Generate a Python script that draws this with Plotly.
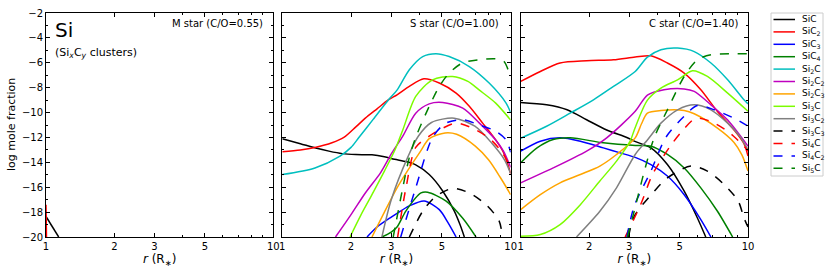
import plotly.graph_objects as go

# ---------------- data (log mole fraction vs r / R*) ----------------
SPECIES = ["SiC", "SiC<sub>2</sub>", "SiC<sub>3</sub>", "SiC<sub>4</sub>",
           "Si<sub>2</sub>C", "Si<sub>2</sub>C<sub>2</sub>", "Si<sub>2</sub>C<sub>3</sub>",
           "Si<sub>3</sub>C", "Si<sub>3</sub>C<sub>2</sub>", "Si<sub>3</sub>C<sub>3</sub>",
           "Si<sub>4</sub>C", "Si<sub>4</sub>C<sub>2</sub>", "Si<sub>5</sub>C"]
COLORS = ["#000000", "#ff0000", "#0000ff", "#008000", "#00bfbf", "#bf00bf", "#ffa500",
          "#7cfc00", "#808080", "#000000", "#ff0000", "#0000ff", "#008000"]
DASHES = ["solid"] * 9 + ["dash"] * 4

X_TICKS = [1, 2, 3, 5, 10]
X_TICKTEXT = ["1", "2", "3", "5", "10"]
Y_TICKS = [-20, -18, -16, -14, -12, -10, -8, -6, -4, -2]

# M star (C/O=0.55)
m_sic_r = [1.0, 1.137]
m_sic_y = [-18.35, -20.0]
m_sic2_r = [1.0, 1.005]
m_sic2_y = [-17.4, -20.0]

# S star (C/O=1.00)
s_sic_r = [1, 1.2, 1.4, 1.6, 1.83, 2.1, 2.47, 2.8, 3.1, 3.5, 3.84, 4.4, 5.04, 5.66, 6.0, 6.27]
s_sic_y = [-12.1, -12.5, -12.85, -13.1, -13.3, -13.38, -13.4, -13.55, -13.75, -13.95, -14.2, -14.98, -16.3, -17.9, -19.0, -20]
s_sic2_r = [1, 1.2, 1.39, 1.65, 1.86, 2.1, 2.31, 2.6, 2.92, 3.18, 3.6, 4.17, 4.87, 5.77, 6.59, 7.54, 8.6, 9.3, 10]
s_sic2_y = [-13.15, -13.0, -12.8, -12.43, -12.0, -11.15, -10.45, -9.7, -8.97, -8.57, -7.9, -7.29, -7.63, -8.44, -9.5, -10.85, -12.2, -13.2, -14.9]
s_sic3_r = [2.35, 2.6, 3.0, 3.18, 3.6, 4.18, 4.87, 5.3, 5.77]
s_sic3_y = [-20, -19.2, -18.4, -18.1, -17.5, -17.1, -17.8, -18.8, -20]
s_sic4_r = [2.73, 3.0, 3.18, 3.48, 4.05, 4.33, 5.2, 6.17, 7.05]
s_sic4_y = [-20, -19.6, -19.2, -17.9, -16.46, -16.4, -17.1, -18.5, -20]
s_si2c_r = [1, 1.39, 1.79, 2.0, 2.16, 2.5, 2.92, 3.18, 3.6, 4.12, 4.71, 5.38, 6.59, 8.05, 9.55, 10]
s_si2c_y = [-14.98, -14.45, -13.5, -12.8, -12.03, -10.55, -8.97, -8.2, -6.56, -5.5, -5.27, -5.5, -6.3, -7.63, -9.24, -10.0]
s_si2c2_r = [1.71, 2.0, 2.31, 2.7, 3.02, 3.37, 3.84, 4.4, 5.04, 6.17, 7.3, 8.6, 9.3, 10]
s_si2c2_y = [-20, -18.2, -16.46, -14.8, -13.24, -11.9, -10.05, -9.3, -9.19, -9.64, -10.85, -12.2, -13.1, -14.4]
s_si2c3_r = [2.47, 2.8, 3.18, 3.5, 4.0, 4.4, 5.16, 5.8, 7.0, 8.0, 9.0, 10]
s_si2c3_y = [-20, -18.0, -16.05, -14.8, -13.2, -12.1, -11.64, -11.75, -12.7, -13.8, -15.2, -16.6]
s_si3c_r = [1.98, 2.2, 2.47, 2.8, 3.12, 3.37, 3.84, 4.55, 5.57, 6.5, 7.3, 8.6, 10]
s_si3c_y = [-20, -18.3, -16.6, -14.7, -12.97, -11.4, -8.7, -7.37, -7.1, -7.5, -8.2, -9.24, -10.6]
s_si3c2_r = [2.73, 3.0, 3.56, 3.94, 4.5, 5.66, 6.97, 8.26, 9.4, 10]
s_si3c2_y = [-20, -17.0, -13.5, -11.9, -10.8, -10.45, -11.1, -12.45, -13.8, -14.9]
s_si3c3_r = [3.6, 4.12, 4.71, 5.57, 6.59, 7.8, 8.9, 9.2]
s_si3c3_y = [-20, -17.93, -16.72, -16.1, -16.46, -17.4, -18.7, -20]
s_si4c_r = [3.2, 3.48, 3.84, 4.4, 4.87, 5.77, 6.8, 8.05, 9.0, 9.6, 10]
s_si4c_y = [-20, -16.05, -12.8, -11.9, -11.4, -10.85, -11.25, -12.06, -13.0, -13.8, -14.6]
s_si4c2_r = [3.3, 3.84, 4.55, 5.2, 6.17, 7.3, 8.6, 9.55, 10]
s_si4c2_y = [-20, -16.05, -12.0, -10.85, -10.58, -11.0, -11.5, -12.2, -13.2]
s_si5c_r = [3.06, 3.37, 3.6, 3.84, 4.4, 4.87, 5.38, 6.17, 7.3, 8.6, 9.35, 9.87, 10]
s_si5c_y = [-20, -16.05, -13.6, -12.0, -9.5, -7.9, -6.83, -6.0, -5.76, -5.68, -5.9, -6.83, -7.1]

# C star (C/O=1.40)
c_sic_r = [1, 1.3, 1.6, 1.95, 2.39, 2.93, 3.16, 3.74, 4.42, 5.24, 5.99, 6.52]
c_sic_y = [-9.19, -9.38, -9.78, -10.58, -11.4, -12.0, -12.3, -12.84, -14.18, -16.32, -18.47, -20]
c_sic2_r = [1, 1.22, 1.49, 1.95, 2.56, 3.19, 3.74, 4.42, 5.24, 6.2, 7.34, 8.68, 9.6, 10]
c_sic2_y = [-7.5, -6.7, -6.02, -5.84, -5.76, -5.54, -5.44, -6.02, -6.83, -8.17, -9.92, -11.4, -12.5, -13.5]
c_sic3_r = [1, 1.22, 1.49, 1.83, 2.31, 2.74, 3.19, 3.74, 4.42, 5.24, 6.2, 6.87]
c_sic3_y = [-13.1, -12.3, -12.03, -12.3, -12.84, -13.24, -13.6, -14.18, -15.1, -16.6, -18.6, -20]
c_sic4_r = [1, 1.18, 1.39, 1.65, 2.31, 3.19, 3.74, 4.42, 5.24, 6.2, 7.34, 8.56]
c_sic4_y = [-14.04, -12.84, -12.17, -12.03, -12.43, -12.65, -12.7, -13.37, -14.45, -16.05, -17.93, -20]
c_si2c_r = [1, 1.3, 1.65, 2.09, 2.56, 3.19, 3.61, 4.14, 4.9, 5.8, 6.87, 8.14, 9.6, 10]
c_si2c_y = [-12.06, -11.1, -10.05, -8.98, -7.9, -6.7, -5.55, -4.95, -4.82, -5.1, -6.02, -7.37, -8.98, -9.3]
c_si2c2_r = [1, 1.39, 1.95, 2.39, 3.19, 3.61, 4.27, 5.24, 5.8, 6.87, 8.14, 10]
c_si2c2_y = [-15.65, -14.45, -13.1, -12.03, -9.9, -8.6, -8.17, -8.1, -8.3, -9.38, -10.6, -12.7]
c_si2c3_r = [1, 1.22, 1.49, 1.83, 2.23, 2.64, 3.19, 3.4, 3.61, 4.14, 5.24, 5.8, 7.34, 8.68, 9.4, 10]
c_si2c3_y = [-17.8, -16.6, -15.65, -14.98, -14.3, -13.37, -12.03, -10.9, -10.05, -9.84, -9.84, -10.1, -11.25, -12.4, -13.4, -14.7]
c_si3c_r = [1, 1.22, 1.49, 1.83, 2.23, 2.64, 3.03, 3.16, 3.61, 4.14, 4.9, 5.7, 6.63, 8.14, 10]
c_si3c_y = [-19.94, -19.8, -19.0, -17.4, -15.5, -13.9, -12.3, -11.4, -9.0, -8.03, -7.37, -6.64, -7.1, -8.44, -9.9]
c_si3c2_r = [1.76, 2.23, 2.64, 3.19, 3.61, 4.14, 4.9, 5.8, 6.87, 8.14, 9.2, 10]
c_si3c2_y = [-20, -17.93, -16.05, -13.37, -12.2, -10.85, -9.78, -9.38, -9.78, -10.85, -11.9, -13.0]
c_si3c3_r = [2.98, 3.16, 3.87, 4.42, 5.61, 6.63, 7.87, 9.05, 9.6, 10]
c_si3c3_y = [-20, -18.33, -16.32, -15.25, -14.3, -14.7, -15.8, -17.1, -18.47, -19.2]
c_si4c_r = [2.88, 3.37, 3.8, 4.55, 5.24, 5.9, 6.87, 8.14, 9.0, 9.6, 10]
c_si4c_y = [-20, -17.4, -14.98, -12.7, -11.3, -10.45, -10.72, -11.5, -12.2, -12.7, -13.1]
c_si4c2_r = [2.93, 3.16, 3.74, 4.35, 5.24, 5.99, 7.1, 8.68, 10]
c_si4c2_y = [-20, -17.5, -14.7, -12.0, -10.3, -9.43, -9.78, -10.45, -11.1]
c_si5c_r = [2.95, 3.16, 3.5, 3.87, 4.42, 5.24, 5.99, 6.87, 8.68, 10]
c_si5c_y = [-20, -17.9, -14.7, -12.0, -9.78, -7.1, -5.76, -5.35, -5.27, -5.27]

S_SERIES = [(s_sic_r, s_sic_y), (s_sic2_r, s_sic2_y), (s_sic3_r, s_sic3_y), (s_sic4_r, s_sic4_y),
            (s_si2c_r, s_si2c_y), (s_si2c2_r, s_si2c2_y), (s_si2c3_r, s_si2c3_y),
            (s_si3c_r, s_si3c_y), (s_si3c2_r, s_si3c2_y), (s_si3c3_r, s_si3c3_y),
            (s_si4c_r, s_si4c_y), (s_si4c2_r, s_si4c2_y), (s_si5c_r, s_si5c_y)]
C_SERIES = [(c_sic_r, c_sic_y), (c_sic2_r, c_sic2_y), (c_sic3_r, c_sic3_y), (c_sic4_r, c_sic4_y),
            (c_si2c_r, c_si2c_y), (c_si2c2_r, c_si2c2_y), (c_si2c3_r, c_si2c3_y),
            (c_si3c_r, c_si3c_y), (c_si3c2_r, c_si3c2_y), (c_si3c3_r, c_si3c3_y),
            (c_si4c_r, c_si4c_y), (c_si4c2_r, c_si4c2_y), (c_si5c_r, c_si5c_y)]
M_SERIES = {0: (m_sic_r, m_sic_y), 1: (m_sic2_r, m_sic2_y)}

FONT = "DejaVu Sans"
W, H = 830, 270
ML, MR, MT, MB = 46, 82, 13, 33
PW, PH = W - ML - MR, H - MT - MB

fig = go.Figure()

def add(r, y, i, xa, ya):
    fig.add_trace(go.Scatter(
        x=r, y=y, mode="lines", name=SPECIES[i], showlegend=False,
        line=dict(color=COLORS[i], width=1.5, dash=DASHES[i], shape="spline", smoothing=0.8),
        xaxis=xa, yaxis=ya, hoverinfo="skip"))

for i, (r, y) in M_SERIES.items():
    add(r, y, i, "x", "y")
for i, (r, y) in enumerate(S_SERIES):
    add(r, y, i, "x2", "y2")
for i, (r, y) in enumerate(C_SERIES):
    add(r, y, i, "x3", "y3")

domains = [[0.0, 0.3238], [0.3366, 0.6619], [0.6762, 1.0]]
tickfont = dict(family=FONT, size=10, color="black")
for k, dom in enumerate(domains):
    sfx = "" if k == 0 else str(k + 1)
    fig.layout["xaxis" + sfx] = dict(
        domain=dom, type="log", range=[0, 1], anchor="y" + sfx, automargin=False,
        tickvals=X_TICKS, ticktext=X_TICKTEXT, ticks="inside", ticklen=4, tickcolor="black",
        minor=dict(tickvals=[4, 6, 7, 8, 9], ticks="inside", ticklen=2, tickcolor="black"),
        showline=True, linecolor="black", linewidth=1, mirror="ticks",
        showgrid=False, zeroline=False, tickfont=tickfont, ticklabeloverflow="allow",
        title=dict(text="<i>r</i> (R<sub>∗</sub>)", font=dict(family=FONT, size=12, color="black"), standoff=2))
    fig.layout["yaxis" + sfx] = dict(
        domain=[0, 1], range=[-20, -2], anchor="x" + sfx, automargin=False,
        tickvals=Y_TICKS, ticks="inside", ticklen=4, tickcolor="black",
        minor=dict(dtick=1, ticks="inside", ticklen=2, tickcolor="black"),
        showline=True, linecolor="black", linewidth=1, mirror="ticks", ticklabeloverflow="allow",
        showgrid=False, zeroline=False, tickfont=tickfont, showticklabels=(k == 0))

def px2x(px):
    return (px - ML) / PW

def py2y(py):
    return 1 - (py - MT) / PH

ann = [
    dict(xref="paper", yref="paper", x=px2x(11), y=0.5, xanchor="center", yanchor="middle",
         textangle=-90, text="log mole fraction", font=dict(family=FONT, size=11, color="black"),
         showarrow=False),
    dict(xref="x domain", yref="y domain", x=0.03, y=0.985, xanchor="left", yanchor="top",
         text="Si", font=dict(family=FONT, size=20, color="black"), showarrow=False),
    dict(xref="x domain", yref="y domain", x=0.03, y=0.86, xanchor="left", yanchor="top",
         text="(Si<sub><i>x</i></sub>C<sub><i>y</i></sub> clusters)",
         font=dict(family=FONT, size=11, color="black"), showarrow=False),
    dict(xref="x domain", yref="y domain", x=0.965, y=0.985, xanchor="right", yanchor="top",
         text="M star (C/O=0.55)", font=dict(family=FONT, size=10, color="black"), showarrow=False),
    dict(xref="x2 domain", yref="y2 domain", x=0.958, y=0.985, xanchor="right", yanchor="top",
         text="S star (C/O=1.00)", font=dict(family=FONT, size=10, color="black"), showarrow=False),
    dict(xref="x3 domain", yref="y3 domain", x=0.965, y=0.985, xanchor="right", yanchor="top",
         text="C star (C/O=1.40)", font=dict(family=FONT, size=10, color="black"), showarrow=False),
]

# legend box (matplotlib-style, compact rows)
shapes = [dict(type="rect", xref="paper", yref="paper", x0=px2x(771), x1=px2x(823),
               y0=py2y(176), y1=py2y(13), line=dict(color="#cccccc", width=1), fillcolor="white")]
ROW0, ROWSTEP = 19.5, 12.4
for i, name in enumerate(SPECIES):
    yy = py2y(ROW0 + i * ROWSTEP)
    shapes.append(dict(type="line", xref="paper", yref="paper", x0=px2x(773.5), x1=px2x(795),
                       y0=yy, y1=yy, line=dict(color=COLORS[i], width=1.5,
                                               dash="dash" if DASHES[i] == "dash" else "solid")))
    ann.append(dict(xref="paper", yref="paper", x=px2x(800), y=yy, xanchor="left", yanchor="middle",
                    text=name, showarrow=False, font=dict(family=FONT, size=9, color="black")))

fig.update_layout(
    width=W, height=H, plot_bgcolor="white", paper_bgcolor="white",
    margin=dict(l=ML, r=MR, t=MT, b=MB, autoexpand=False), annotations=ann, shapes=shapes,
    showlegend=False,
)
fig.write_html("out.html", config={"displayModeBar": False, "staticPlot": True},
               post_script="document.body.style.margin='0';document.body.style.overflow='hidden';")
